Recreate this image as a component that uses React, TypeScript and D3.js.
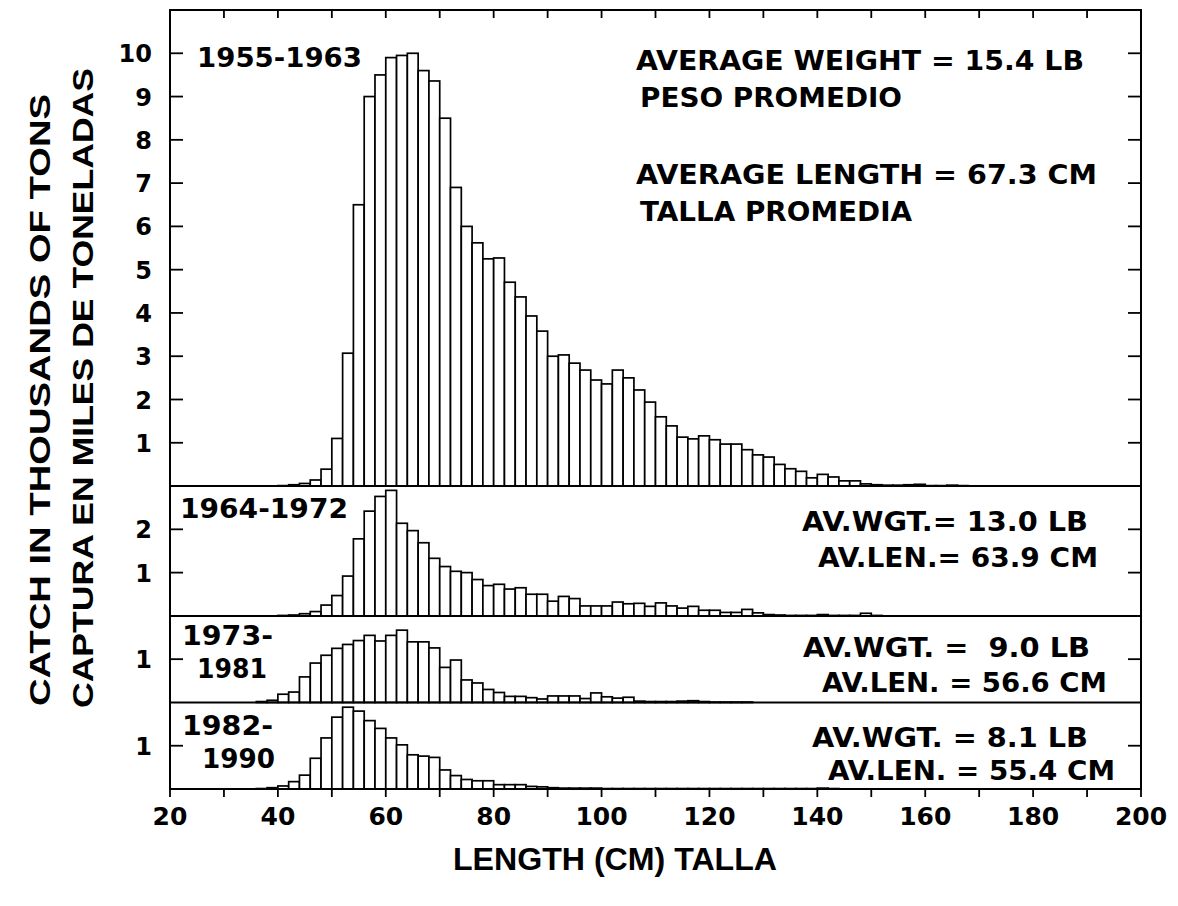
import React, { useEffect, useRef } from 'react';
import * as d3 from 'd3';

const WIDTH = 1178;
const HEIGHT = 906;
const margin = { top: 10, right: 37, bottom: 117, left: 170 };
const FONT = '"DejaVu Sans", Arial, sans-serif';
const TITLE_FONT = '"Liberation Sans", Arial, sans-serif';

// lower edge of each 2-cm length class
const BIN_WIDTH = 2;
const lengthBins = d3.range(36, 170, BIN_WIDTH);

// catch, thousands of tons, per length class (36 .. 168 cm)
const catch1955 = [
  0, 0, 0.01, 0.03, 0.06, 0.14, 0.39, 1.1, 3.07, 6.5,
  9.0, 9.5, 9.9, 9.95, 10.0, 9.6, 9.36, 8.5, 6.9, 6.0,
  5.62, 5.25, 5.27, 4.71, 4.37, 3.93, 3.58, 3.0, 3.03, 2.84,
  2.68, 2.45, 2.36, 2.68, 2.5, 2.22, 1.94, 1.6, 1.39, 1.13,
  1.09, 1.16, 1.07, 0.97, 0.97, 0.84, 0.72, 0.67, 0.5, 0.4,
  0.34, 0.19, 0.27, 0.21, 0.12, 0.12, 0.05, 0.03, 0.02, 0.02,
  0.03, 0.04, 0.01, 0.01, 0.02, 0.01, 0,
];
const catch1964 = [
  0, 0, 0.01, 0.02, 0.05, 0.1, 0.25, 0.47, 0.92, 1.78,
  2.42, 2.76, 2.9, 2.14, 1.97, 1.69, 1.33, 1.14, 1.03, 1.0,
  0.84, 0.7, 0.73, 0.62, 0.65, 0.5, 0.5, 0.34, 0.45, 0.4,
  0.23, 0.23, 0.23, 0.32, 0.28, 0.29, 0.22, 0.3, 0.23, 0.18,
  0.22, 0.13, 0.13, 0.08, 0.08, 0.15, 0.07, 0.03, 0.02, 0.01,
  0.01, 0.01, 0.03, 0.01, 0.01, 0.01, 0.06, 0.01, 0, 0,
  0, 0, 0, 0, 0, 0, 0,
];
const catch1973 = [
  0.02, 0.05, 0.19, 0.24, 0.59, 0.91, 1.09, 1.25, 1.34, 1.43,
  1.55, 1.42, 1.55, 1.67, 1.4, 1.4, 1.26, 0.81, 0.98, 0.52,
  0.45, 0.3, 0.23, 0.14, 0.14, 0.11, 0.08, 0.15, 0.15, 0.15,
  0.09, 0.22, 0.13, 0.1, 0.12, 0.03, 0.02, 0.02, 0.02, 0.03,
  0.04, 0.02, 0.01, 0.01, 0.01, 0.01, 0, 0, 0, 0,
  0, 0, 0, 0, 0, 0, 0, 0, 0, 0,
  0, 0, 0, 0, 0, 0, 0,
];
const catch1982 = [
  0.01, 0.03, 0.07, 0.17, 0.32, 0.71, 1.18, 1.66, 1.89, 1.8,
  1.58, 1.4, 1.18, 1.02, 0.79, 0.76, 0.73, 0.44, 0.31, 0.22,
  0.19, 0.19, 0.1, 0.1, 0.1, 0.06, 0.05, 0.03, 0.02, 0.02,
  0.02, 0.02, 0.01, 0.01, 0.01, 0.01, 0.01, 0.01, 0.01, 0.01,
  0.01, 0.01, 0.01, 0.01, 0.01, 0.01, 0.01, 0.01, 0.01, 0.01,
  0.01, 0.01, 0.02, 0.01, 0, 0, 0, 0, 0, 0,
  0, 0, 0, 0, 0, 0, 0,
];

const panelMax = [11, 3, 2, 2];
const panelTicks = [[1, 2, 3, 4, 5, 6, 7, 8, 9, 10], [1, 2], [1], [1]];
const xTicks = [20, 40, 60, 80, 100, 120, 140, 160, 180, 200];
const xMinorTicks = d3.range(20, 201, 10);

// [text, x, baseline, textLength]
const periodLabels = [
  [['1955-1963', 197, 67, 165]],
  [['1964-1972', 180, 518, 168]],
  [['1973-', 182, 645, 91], ['1981', 197, 678, 70]],
  [['1982-', 182, 735, 91], ['1990', 202, 768, 73]],
];
const statLabels = [
  [['AVERAGE WEIGHT = 15.4 LB', 636, 70, 448], ['PESO PROMEDIO', 640, 107, 262],
   ['AVERAGE LENGTH = 67.3 CM', 636, 184, 461], ['TALLA PROMEDIA', 640, 221, 272]],
  [['AV.WGT.= 13.0 LB', 802, 531, 286], ['AV.LEN.= 63.9 CM', 818, 567, 280]],
  [['AV.WGT. =  9.0 LB', 803, 657, 287], ['AV.LEN. = 56.6 CM', 822, 692, 285]],
  [['AV.WGT. = 8.1 LB', 812, 747, 276], ['AV.LEN. = 55.4 CM', 828, 780, 287]],
];

const series = [catch1955, catch1964, catch1973, catch1982];

export default function App() {
  const ref = useRef<SVGSVGElement>(null);

  useEffect(() => {
    const svg = d3.select(ref.current);
    svg.selectAll('*').remove();

    const left = margin.left;
    const right = WIDTH - margin.right - 0; // 1141
    const top = margin.top;
    const bottom = HEIGHT - margin.bottom; // 789

    const x = d3.scaleLinear().domain([20, 200]).range([left, right]);
    const unit = (bottom - top) / d3.sum(panelMax);

    // panel extents, stacked top to bottom at one common scale
    let y0 = top;
    const panels = panelMax.map((m, i) => {
      const y1 = y0 + m * unit;
      const y = d3.scaleLinear().domain([0, m]).range([y1, y0]);
      const p = { y, y0, y1, i };
      y0 = y1;
      return p;
    });

    panels.forEach((p) => {
      const data = lengthBins
        .map((b, j) => ({ b, v: series[p.i][j] }))
        .filter((d) => d.v > 0);
      svg.append('g')
        .selectAll('rect')
        .data(data)
        .enter().append('rect')
        .attr('x', (d) => x(d.b))
        .attr('width', (d) => x(d.b + BIN_WIDTH) - x(d.b))
        .attr('y', (d) => p.y(d.v))
        .attr('height', (d) => p.y(0) - p.y(d.v))
        .attr('fill', 'white')
        .attr('stroke', 'black')
        .attr('stroke-width', 1.7);

      // y ticks, both sides, pointing in
      const ticks = panelTicks[p.i];
      const g = svg.append('g').attr('stroke', 'black').attr('stroke-width', 1.8);
      ticks.forEach((t) => {
        g.append('line').attr('x1', left).attr('x2', left + 13).attr('y1', p.y(t)).attr('y2', p.y(t));
        g.append('line').attr('x1', right).attr('x2', right - 13).attr('y1', p.y(t)).attr('y2', p.y(t));
      });
      svg.append('g')
        .selectAll('text')
        .data(ticks)
        .enter().append('text')
        .attr('x', 152)
        .attr('y', (t) => p.y(t) + 9)
        .attr('text-anchor', 'end')
        .attr('font-family', FONT)
        .attr('font-weight', 'bold')
        .attr('font-size', 24)
        .text((t) => `${t}`);

      if (p.i > 0) {
        svg.append('line')
          .attr('x1', left).attr('x2', right)
          .attr('y1', p.y0).attr('y2', p.y0)
          .attr('stroke', 'black').attr('stroke-width', 2);
      }

      const labels = [...periodLabels[p.i], ...statLabels[p.i]];
      labels.forEach(([txt, lx, ly, len]) => {
        svg.append('text')
          .attr('x', lx as number)
          .attr('y', ly as number)
          .attr('font-family', FONT)
          .attr('font-weight', 'bold')
          .attr('font-size', 26)
          .attr('textLength', len as number)
          .attr('lengthAdjust', 'spacingAndGlyphs')
          .attr('xml:space', 'preserve')
          .style('white-space', 'pre')
          .text(txt as string);
      });
    });

    // frame
    svg.append('rect')
      .attr('x', left).attr('y', top)
      .attr('width', right - left).attr('height', bottom - top)
      .attr('fill', 'none').attr('stroke', 'black').attr('stroke-width', 2);

    // x ticks: top inward, bottom outward
    const gx = svg.append('g').attr('stroke', 'black').attr('stroke-width', 1.8);
    xMinorTicks.forEach((t) => {
      gx.append('line').attr('x1', x(t)).attr('x2', x(t)).attr('y1', top).attr('y2', top + 8);
      gx.append('line').attr('x1', x(t)).attr('x2', x(t)).attr('y1', bottom).attr('y2', bottom + 8);
    });
    svg.append('g')
      .selectAll('text')
      .data(xTicks)
      .enter().append('text')
      .attr('x', (t) => x(t))
      .attr('y', 825)
      .attr('text-anchor', 'middle')
      .attr('font-family', FONT)
      .attr('font-weight', 'bold')
      .attr('font-size', 25)
      .text((t) => `${t}`);

    // axis titles
    svg.append('text')
      .attr('x', 615).attr('y', 870)
      .attr('text-anchor', 'middle')
      .attr('font-family', TITLE_FONT)
      .attr('font-weight', 'bold')
      .attr('font-size', 32)
      .attr('textLength', 324)
      .attr('lengthAdjust', 'spacingAndGlyphs')
      .text('LENGTH (CM) TALLA');

    svg.append('text')
      .attr('transform', 'translate(50,400) rotate(-90)')
      .attr('text-anchor', 'middle')
      .attr('font-family', TITLE_FONT)
      .attr('font-weight', 'bold')
      .attr('font-size', 30)
      .attr('textLength', 612)
      .attr('lengthAdjust', 'spacingAndGlyphs')
      .text('CATCH IN THOUSANDS OF TONS');

    svg.append('text')
      .attr('transform', 'translate(93,388) rotate(-90)')
      .attr('text-anchor', 'middle')
      .attr('font-family', TITLE_FONT)
      .attr('font-weight', 'bold')
      .attr('font-size', 30)
      .attr('textLength', 640)
      .attr('lengthAdjust', 'spacingAndGlyphs')
      .text('CAPTURA EN MILES DE TONELADAS');
  }, []);

  return (
    <svg
      ref={ref}
      width={WIDTH}
      height={HEIGHT}
      style={{ position: 'absolute', left: 0, top: 0, background: 'white' }}
    />
  );
}
